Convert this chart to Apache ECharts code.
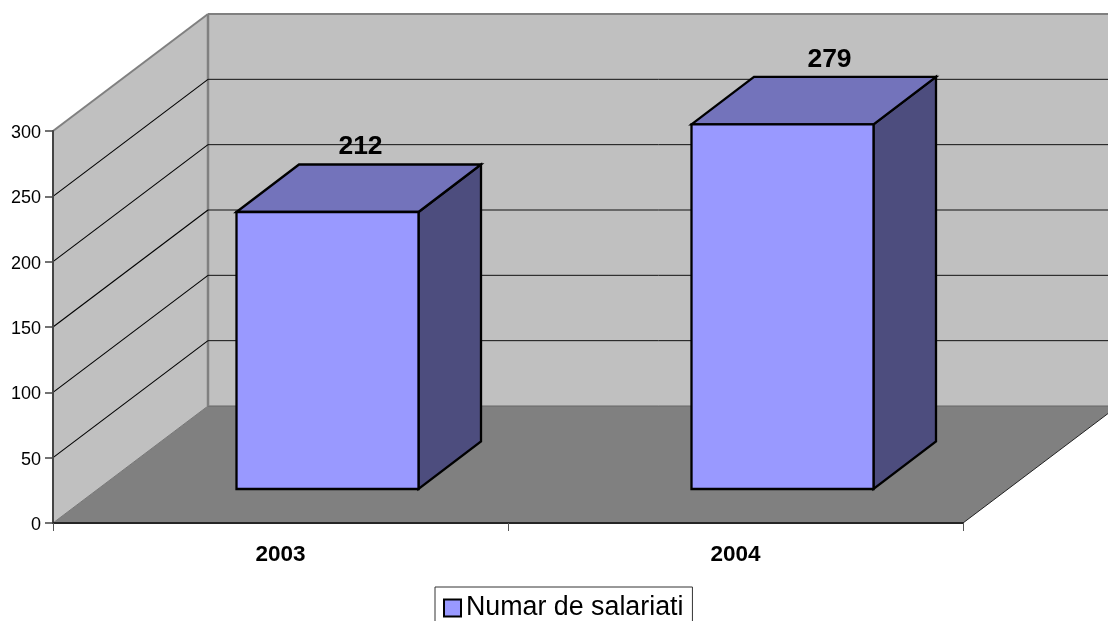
<!DOCTYPE html>
<html><head><meta charset="utf-8">
<style>html,body{margin:0;padding:0;background:#fff;overflow:hidden}#c{width:1108px;height:621px}</style>
<script src="https://cdn.jsdelivr.net/npm/echarts@6/dist/echarts.min.js"></script>
</head><body><div id="c"></div>
<script>
const categories = ['2003', '2004'];
const salariati = [212, 279];
const gridValues = [50, 100, 150, 200, 250];
const seriesName = 'Numar de salariati';

// projection of the fake 3D scene, in pixels
const DEPTH_X = 155, DEPTH_Y = -117;
const BAR_SHIFT = [47, -34], BAR_DEPTH = [62.5, -47.5], BAR_RATIO = 0.4;
const LABEL_DX = [33, 47], LABEL_DY = -65;
const FONT = '"Liberation Sans", Arial, sans-serif';

const chart = echarts.init(document.getElementById('c'), null, {renderer: 'canvas'});

function poly(points, fill, stroke, width) {
  return {type: 'polygon', shape: {points}, style: {fill, stroke: stroke || null, lineWidth: width || 0, lineJoin: 'miter'}};
}
function line(a, b, stroke, width) {
  return {type: 'line', shape: {x1: a[0], y1: a[1], x2: b[0], y2: b[1]}, style: {stroke, lineWidth: width}};
}

function renderScene(params, api) {
  const o = api.coord([0, 0]);
  const band = api.size([1, 0])[0];
  const x0 = o[0] - band / 2, y0 = o[1];
  const x1 = x0 + band * categories.length;
  const yTop = api.coord([0, 300])[1];
  const b = (x, y) => [x + DEPTH_X, y + DEPTH_Y];
  return {type: 'group', children: [
    poly([b(x0, y0), b(x1, y0), b(x1, yTop), b(x0, yTop)], '#c0c0c0'),
    poly([[x0, y0], b(x0, y0), b(x0, yTop), [x0, yTop]], '#c0c0c0'),
    poly([[x0, y0], [x1, y0], b(x1, y0), b(x0, y0)], '#808080'),
    line(b(x0, y0), b(x1, y0), '#666666', 1),
    line([x0, y0], b(x0, y0), '#777777', 1),
    line([x1, y0], b(x1, y0), '#222222', 1),
    line([x0, yTop], b(x0, yTop), '#808080', 2),
    line(b(x0, y0), b(x0, yTop), '#808080', 2.5),
    line(b(x0, yTop), b(x1, yTop), '#808080', 2)
  ]};
}

function renderGridline(params, api) {
  const v = api.value(0);
  const p = api.coord([0, v]);
  const band = api.size([1, 0])[0];
  const x0 = p[0] - band / 2, x1 = x0 + band * categories.length;
  return {type: 'group', children: [
    line([x0, p[1]], [x0 + DEPTH_X, p[1] + DEPTH_Y], '#000000', 1.1),
    line([x0 + DEPTH_X, p[1] + DEPTH_Y], [x1 + DEPTH_X, p[1] + DEPTH_Y], '#111111', 1)
  ]};
}

function renderBar(params, api) {
  const idx = api.value(0), val = api.value(1);
  const top = api.coord([idx, val]), base = api.coord([idx, 0]);
  const w = api.size([1, 0])[0] * BAR_RATIO;
  const L = top[0] - w / 2 + BAR_SHIFT[0], R = L + w;
  const T = top[1] + BAR_SHIFT[1], B = base[1] + BAR_SHIFT[1];
  const dx = BAR_DEPTH[0], dy = BAR_DEPTH[1];
  const edge = '#000000', lw = 2.3;
  return {type: 'group', children: [
    poly([[R, T], [R + dx, T + dy], [R + dx, B + dy], [R, B]], '#4d4d7e', edge, lw),
    poly([[L, T], [L + dx, T + dy], [R + dx, T + dy], [R, T]], '#7373bb', edge, lw),
    poly([[L, T], [R, T], [R, B], [L, B]], '#9999ff', edge, lw),
    {type: 'text', style: {
      x: (L + R) / 2 + LABEL_DX[idx], y: T + LABEL_DY, text: String(val),
      align: 'center', verticalAlign: 'middle',
      font: 'bold 26.5px ' + FONT, fill: '#000'
    }}
  ]};
}

chart.setOption({
  animation: false,
  backgroundColor: '#ffffff',
  grid: {left: 53, top: 131, width: 910, height: 392, containLabel: false},
  xAxis: {
    type: 'category', data: categories, z: 5,
    axisLine: {show: true, onZero: false, lineStyle: {color: '#262626', width: 2}},
    axisTick: {show: true, length: 8, alignWithLabel: false, lineStyle: {color: '#555555', width: 1}},
    axisLabel: {color: '#000', fontFamily: FONT, fontWeight: 'bold', fontSize: 22.5, margin: 20},
    splitLine: {show: false}
  },
  yAxis: {
    type: 'value', min: 0, max: 300, interval: 50, z: 5,
    axisLine: {show: true, lineStyle: {color: '#444444', width: 2}},
    axisTick: {show: true, length: 8, lineStyle: {color: '#444444', width: 1.5}},
    axisLabel: {
      color: '#000', fontFamily: FONT, fontSize: 18, margin: 12,
      formatter: '{n|{value}}',
      rich: {n: {color: '#000', fontFamily: FONT, fontSize: 18, padding: [4, 0, 0, 0]}}
    },
    splitLine: {show: false}
  },
  legend: {
    left: 435, top: 587, orient: 'horizontal',
    data: [seriesName],
    icon: 'rect', itemWidth: 17, itemHeight: 17,
    padding: [6, 9, 8, 8],
    borderColor: '#333333', borderWidth: 1, backgroundColor: '#ffffff',
    itemStyle: {color: '#9999ff', borderColor: '#000', borderWidth: 2},
    selectedMode: false,
    textStyle: {color: '#000', fontFamily: FONT, fontSize: 26.8, lineHeight: 30, padding: 0}
  },
  series: [
    {type: 'custom', name: 'scene', silent: true, clip: false, renderItem: renderScene, data: [[0]], encode: {x: 0, y: 0}, z: 1},
    {type: 'custom', name: 'grid', silent: true, clip: false, renderItem: renderGridline,
     data: gridValues.map(v => [v]), encode: {y: 0}, z: 2},
    {type: 'custom', name: seriesName, clip: false, renderItem: renderBar,
     itemStyle: {color: '#9999ff'},
     data: salariati.map((v, i) => [i, v]), encode: {x: 0, y: 1}, z: 3}
  ]
});
</script></body></html>
